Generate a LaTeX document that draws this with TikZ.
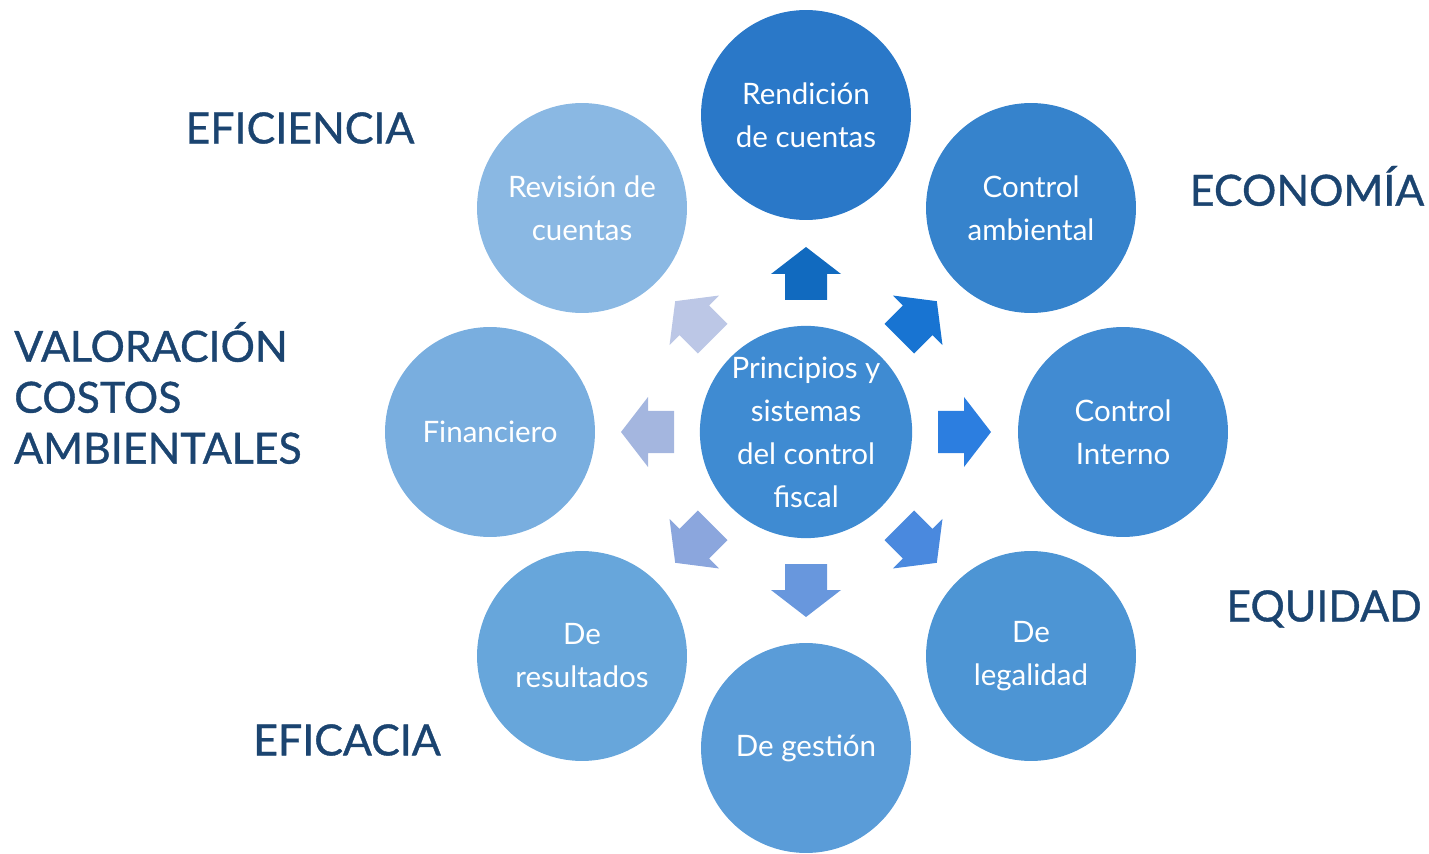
\documentclass[tikz,border=0pt]{standalone}
\usepackage{fontspec}
\setmainfont{Lato}
\newfontfamily\rotfont{Lato}[FakeBold=0.9]
\usepackage{tikz}
\usetikzlibrary{calc}

\definecolor{titulo}{HTML}{1B4470}
\definecolor{cCentro}{HTML}{3F8BD2}
\definecolor{cRend}{HTML}{2A78C8}
\definecolor{cAmb}{HTML}{3683CC}
\definecolor{cInt}{HTML}{418BD2}
\definecolor{cLeg}{HTML}{4D95D4}
\definecolor{cGes}{HTML}{5A9CD8}
\definecolor{cRes}{HTML}{67A6DB}
\definecolor{cFin}{HTML}{79AEDF}
\definecolor{cRev}{HTML}{8AB8E3}
\definecolor{fA}{HTML}{116ABF}
\definecolor{fB}{HTML}{1874D2}
\definecolor{fC}{HTML}{2C7EE0}
\definecolor{fD}{HTML}{4A89DE}
\definecolor{fE}{HTML}{6897DD}
\definecolor{fF}{HTML}{8BA6DD}
\definecolor{fG}{HTML}{A4B6DF}
\definecolor{fH}{HTML}{BCC7E6}

\tikzset{
  bola/.style={circle, minimum size=4.2cm, inner sep=0pt, text=white, align=center,
    font=\fontsize{16.8}{24.5}\selectfont},
  rotulo/.style={text=titulo, font=\rotfont\fontsize{24.4}{29}\selectfont}
}

\begin{document}
\begin{tikzpicture}[x=0.02cm,y=-0.02cm]
            \useasboundingbox (0,0) rectangle (1429,854);
            % circulo central
            \node[bola, fill=cCentro] (ppal) at (806,432) {Principios y\\sistemas\\del control\\fiscal};
            % flechas
            \foreach \ang/\col in {90/fA, 45/fB, 0/fC, -45/fD, -90/fE, -135/fF, 180/fG, 135/fH}
                \fill[\col, shift={(ppal.center)}, rotate=\ang]
                    (132,-21) -- (158,-21) -- (158,-35) -- (185,0) -- (158,35) -- (158,21) -- (132,21) -- cycle;
            % circulos exteriores
            \node[bola, fill=cRend] (rend) at (806,115) {Rendición\\de cuentas};
            \node[bola, fill=cAmb] (amb) at (1031,208) {Control\\ambiental};
            \node[bola, fill=cInt] (int) at (1123,432) {Control\\Interno};
            \node[bola, fill=cLeg] (leg) at (1031,656) {De\\legalidad};
            \node[bola, fill=cGes] (ges) at (806,748) {De gestión};
            \node[bola, fill=cRes] (res) at (582,656) {De\\resultados};
            \node[bola, fill=cFin] (fin) at (490,432) {Financiero};
            \node[bola, fill=cRev] (rev) at (582,208) {Revisión de\\cuentas};
            % principios
            \node[rotulo] (efic) at (300,128) {EFICIENCIA};
            \node[rotulo] (econ) at (1307,186) {ECONOMÍA};
            \node[rotulo, anchor=west, align=left] (valor) at (8,393) {VALORACIÓN\\COSTOS\\AMBIENTALES};
            \node[rotulo] (equi) at (1324,609) {EQUIDAD};
            \node[rotulo] (efca) at (347,740) {EFICACIA};
        \end{tikzpicture}
\end{document}
